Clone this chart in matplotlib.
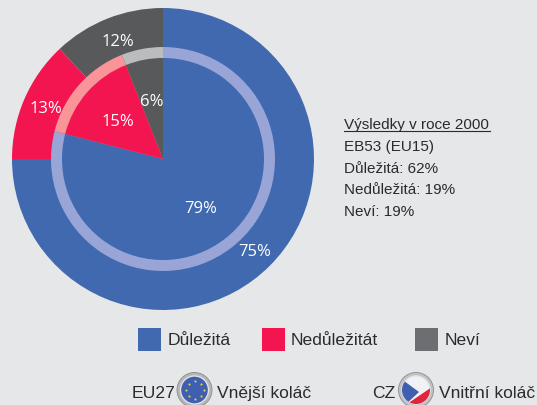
import matplotlib
matplotlib.use("Agg")
import matplotlib.pyplot as plt
from matplotlib.patches import Circle, Rectangle, Polygon

categories = ["Důležitá", "Nedůležitát", "Neví"]
outer_values = [75, 13, 12]
inner_values = [79, 15, 6]
colors = ["#4069B0", "#F21550", "#58595B"]
ring_colors = ["#98A5D6", "#F99499", "#BBBCBE"]
legend_colors = ["#4069B0", "#F21550", "#6D6E71"]
note_lines = ["EB53 (EU15)", "Důležitá: 62%", "Nedůležitá: 19%", "Neví: 19%"]
note_title = "Výsledky v roce 2000"

W, H = 537, 406
narrow = ["Liberation Sans", "DejaVu Sans"]
pie_font = ["Open Sans", "DejaVu Sans"]
dark = "#2B2B2D"
bg = "#E6E7E9"

fig = plt.figure(figsize=(W / 100, H / 100), dpi=100, facecolor=bg)
ax = fig.add_axes([0, 0, 1, 1])
ax.axis("off")


def Y(py):
    return H - py


cx, cy = 163, Y(160)
wp = dict(linewidth=0)
ax.pie(outer_values, colors=colors, radius=151, center=(cx, cy), startangle=90,
       counterclock=False, wedgeprops=wp, frame=False)
ax.pie(inner_values, colors=ring_colors, radius=112, center=(cx, cy), startangle=90,
       counterclock=False, wedgeprops=wp, frame=False)
ax.pie(inner_values, colors=colors, radius=101, center=(cx, cy), startangle=90,
       counterclock=False, wedgeprops=wp, frame=False)
ax.set_xlim(0, W)
ax.set_ylim(0, H)
ax.set_aspect("equal")

outer_pos = [(255, 252), (46, 109), (118, 41.5)]
inner_pos = [(201, 209), (118, 122), (152, 101.5)]
for v, (x, y) in zip(outer_values, outer_pos):
    ax.text(x, Y(y), f"{v}%", color="white", fontsize=12, ha="center", va="center", family=pie_font)
for v, (x, y) in zip(inner_values, inner_pos):
    ax.text(x, Y(y), f"{v}%", color="white", fontsize=12, ha="center", va="center", family=pie_font)

# note
ax.text(344, Y(125.5), note_title, fontsize=11, color=dark, ha="left", va="center", family=narrow)
ax.plot([344, 490], [Y(132), Y(132)], color=dark, lw=0.8)
for i, line in enumerate(note_lines):
    ax.text(344, Y(147 + i * 21.6), line, fontsize=11, color=dark, ha="left", va="center", family=narrow)

# legend
for c, name, sx, tx in zip(legend_colors, categories, [138, 262, 415], [168, 291, 445]):
    ax.add_patch(Rectangle((sx, Y(352)), 23, 23, facecolor=c, edgecolor="none"))
    ax.text(tx, Y(340.5), name, fontsize=12.6, color=dark, ha="left", va="center", family=narrow)

# bottom row
ax.text(132, Y(394), "EU27", fontsize=12.6, color=dark, ha="left", va="center", family=narrow)
ax.text(217, Y(394), "Vnější koláč", fontsize=12.6, color=dark, ha="left", va="center", family=narrow)
ax.text(372, Y(394), "CZ", fontsize=12.6, color=dark, ha="left", va="center", family=narrow)
ax.text(439, Y(394), "Vnitřní koláč", fontsize=12.6, color=dark, ha="left", va="center", family=narrow)

# badges
ecx, ecy = 194.5, Y(391)
ax.add_patch(Circle((ecx, ecy), 17.5, facecolor="#B5B6B8", edgecolor="#8A8B8D", lw=0.6))
ax.add_patch(Circle((ecx, ecy), 14, facecolor="#3F5FB0", edgecolor="#E2E3E5", lw=1))
ax.scatter([ecx + 9, ecx + 6, ecx, ecx - 6, ecx - 9, ecx - 6, ecx, ecx + 6],
           [ecy, ecy + 6, ecy + 9, ecy + 6, ecy, ecy - 6, ecy - 9, ecy - 6],
           s=2.5, color="#E8C840", linewidths=0)

zcx, zcy = 416, Y(391)
ax.add_patch(Circle((zcx, zcy), 17.5, facecolor="#C2C3C5", edgecolor="#8A8B8D", lw=0.6))
disc = Circle((zcx, zcy), 14, facecolor="#F2F2F4", edgecolor="#E2E3E5", lw=1)
ax.add_patch(disc)
red = Polygon([(zcx - 12, zcy - 16), (zcx + 16, zcy + 3), (zcx + 16, zcy - 16)], facecolor="#E0263A", edgecolor="none")
ax.add_patch(red)
red.set_clip_path(disc)
blue = Polygon([(zcx - 16, zcy + 12), (zcx + 3, zcy - 2), (zcx - 12, zcy - 16), (zcx - 16, zcy - 16)], facecolor="#3F5FB0", edgecolor="none")
ax.add_patch(blue)
blue.set_clip_path(disc)

fig.savefig("out.png", dpi=100, facecolor=bg)
